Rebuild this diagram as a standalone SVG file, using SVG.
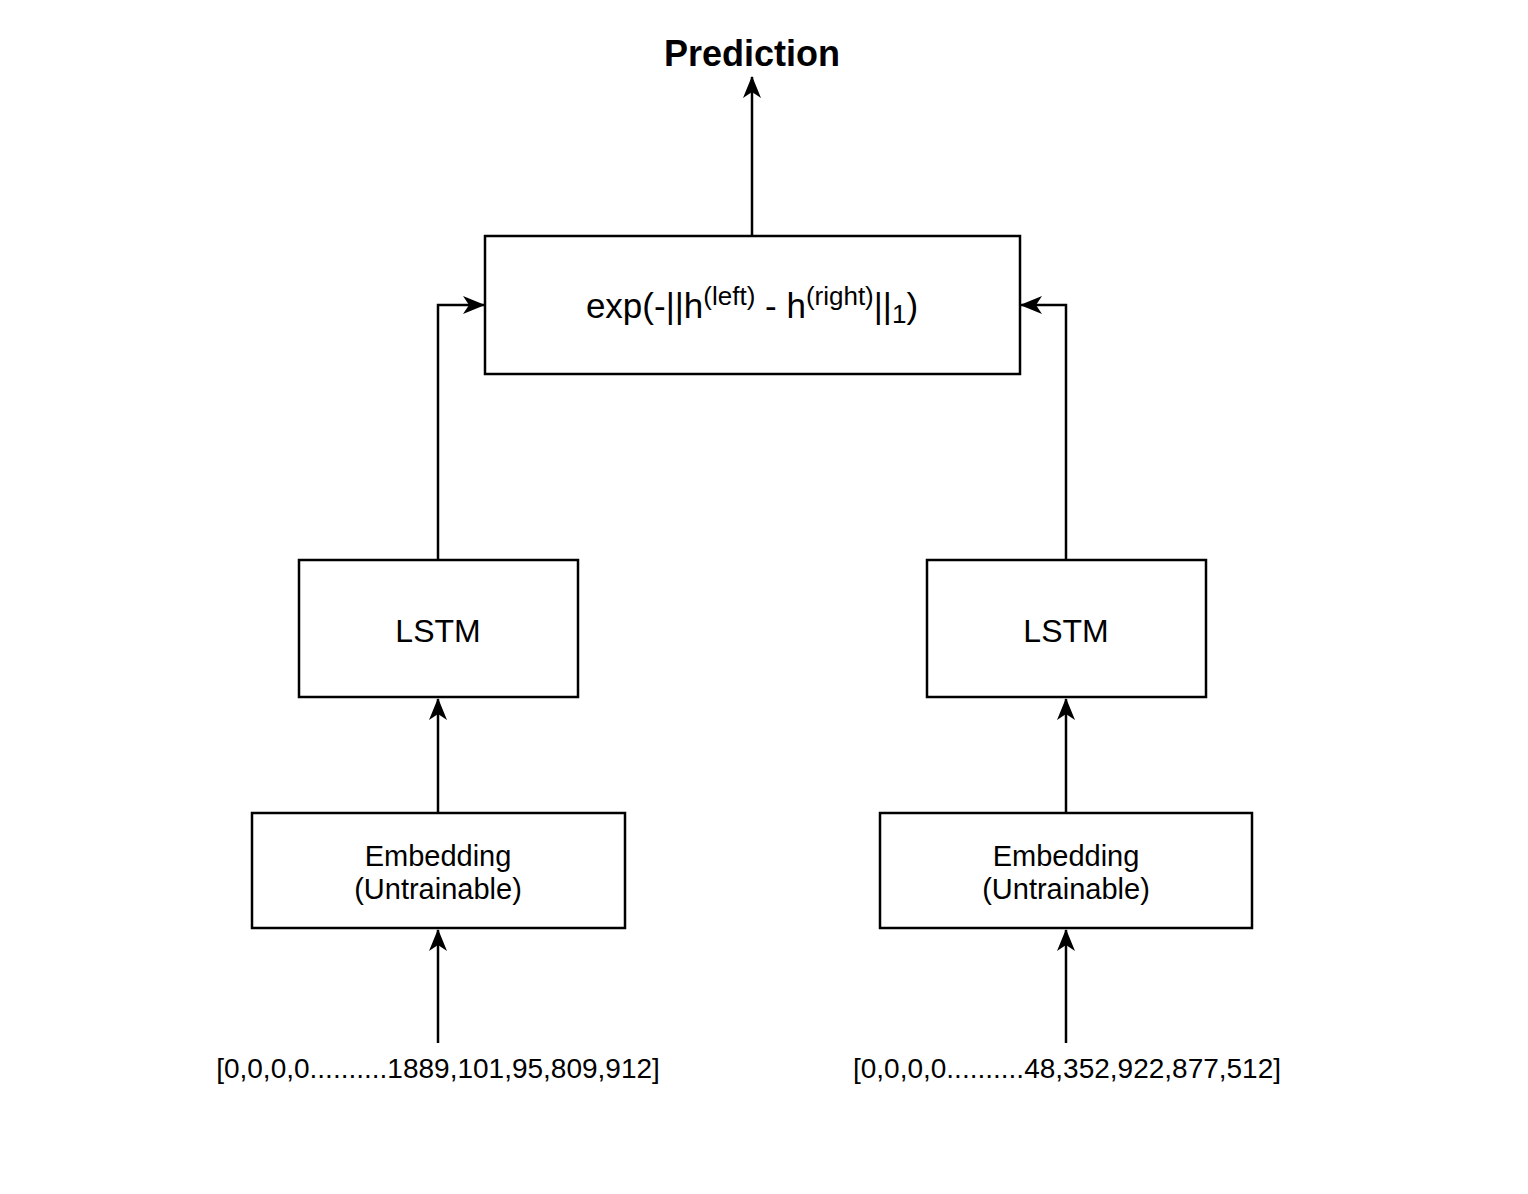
<svg xmlns="http://www.w3.org/2000/svg" width="1528" height="1194" viewBox="0 0 1528 1194">
<style>
.box{fill:#fff;stroke:#000;stroke-width:2.5}
.edge{fill:none;stroke:#000;stroke-width:2.5}
text{font-family:"Liberation Sans",Arial,sans-serif;fill:#000;text-anchor:middle}
.lbl{font-size:32px}
.emb{font-size:29px}
.inp{font-size:28px}
</style>
<defs>
<marker id="arr" viewBox="0 0 22 18" refX="21" refY="9" markerWidth="22" markerHeight="18" markerUnits="userSpaceOnUse" orient="auto">
<path d="M0,0 L22,9 L0,18 L6,9 Z" fill="#000"/>
</marker>
</defs>
<rect width="1528" height="1194" fill="#fff"/>
<g id="connectors">
<path class="edge" d="M752,235 V77" marker-end="url(#arr)"/>
<path class="edge" d="M438,559 V305 H484" marker-end="url(#arr)"/>
<path class="edge" d="M1066,559 V305 H1021" marker-end="url(#arr)"/>
<path class="edge" d="M438,813 V699" marker-end="url(#arr)"/>
<path class="edge" d="M1066,813 V699" marker-end="url(#arr)"/>
<path class="edge" d="M438,1043 V930" marker-end="url(#arr)"/>
<path class="edge" d="M1066,1043 V930" marker-end="url(#arr)"/>
</g>
<g id="prediction">
<text x="752" y="66" font-size="36" font-weight="bold">Prediction</text>
</g>
<g id="similarity">
<rect class="box" x="485" y="236" width="535" height="138"/>
<text x="752" y="318" font-size="35">exp(-||h<tspan font-size="26" dy="-13">(left)</tspan><tspan dy="13"> - h</tspan><tspan font-size="26" dy="-13">(right)</tspan><tspan dy="13">||</tspan><tspan font-size="26" dy="5">1</tspan><tspan dy="-5">)</tspan></text>
</g>
<g id="lstm-left">
<rect class="box" x="299" y="560" width="279" height="137"/>
<text class="lbl" x="438" y="642">LSTM</text>
</g>
<g id="lstm-right">
<rect class="box" x="927" y="560" width="279" height="137"/>
<text class="lbl" x="1066" y="642">LSTM</text>
</g>
<g id="embedding-left">
<rect class="box" x="252" y="813" width="373" height="115"/>
<text class="emb" x="438" y="866">Embedding</text>
<text class="emb" x="438" y="899">(Untrainable)</text>
</g>
<g id="embedding-right">
<rect class="box" x="880" y="813" width="372" height="115"/>
<text class="emb" x="1066" y="866">Embedding</text>
<text class="emb" x="1066" y="899">(Untrainable)</text>
</g>
<g id="input-left">
<text class="inp" x="438" y="1078">[0,0,0,0..........1889,101,95,809,912]</text>
</g>
<g id="input-right">
<text class="inp" x="1067" y="1078">[0,0,0,0..........48,352,922,877,512]</text>
</g>
</svg>
